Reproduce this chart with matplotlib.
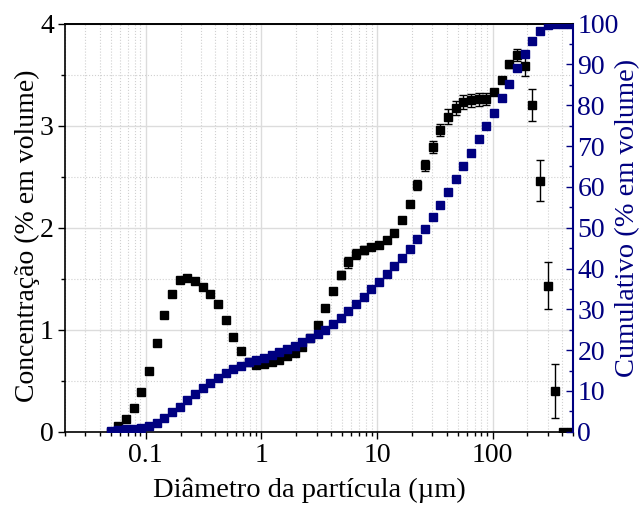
import numpy as np
import matplotlib.pyplot as plt
from matplotlib.ticker import LogLocator, MultipleLocator, FixedFormatter, FixedLocator

plt.rcParams['font.family'] = ['Liberation Serif', 'DejaVu Serif']

# particle size grid (um)
diametro = [0.0497, 0.0579, 0.0675, 0.0786, 0.0916, 0.1067, 0.1243, 0.1448, 0.1687, 0.1965,
            0.2289, 0.2667, 0.3107, 0.3620, 0.4217, 0.4912, 0.5723, 0.6667, 0.7767, 0.9048,
            1.054, 1.228, 1.431, 1.667, 1.942, 2.262, 2.635, 3.070, 3.577, 4.167,
            4.854, 5.655, 6.588, 7.675, 8.941, 10.42, 12.13, 14.14, 16.47, 19.19,
            22.35, 26.04, 30.34, 35.34, 41.17, 47.96, 55.87, 65.09, 75.83, 88.34,
            102.9, 119.9, 139.7, 162.7, 189.6, 220.8, 257.3, 299.8, 349.2, 406.8, 473.9]

# concentration (% volume) and its error
concentracao = [0.0, 0.06, 0.12, 0.23, 0.39, 0.60, 0.87, 1.14, 1.35, 1.49,
                1.51, 1.48, 1.42, 1.35, 1.25, 1.10, 0.93, 0.79, 0.68, 0.65,
                0.66, 0.68, 0.70, 0.74, 0.77, 0.83, 0.92, 1.05, 1.21, 1.38,
                1.54, 1.66, 1.74, 1.78, 1.81, 1.83, 1.88, 1.95, 2.08, 2.23,
                2.42, 2.61, 2.79, 2.96, 3.09, 3.17, 3.23, 3.25, 3.26, 3.26,
                3.33, 3.45, 3.60, 3.69, 3.59, 3.20, 2.46, 1.43, 0.40, 0.0, 0.0]
erro = [0.0, 0.0, 0.0, 0.0, 0.0, 0.0, 0.0, 0.0, 0.0, 0.0,
        0.0, 0.0, 0.0, 0.0, 0.0, 0.0, 0.0, 0.0, 0.0, 0.0,
        0.0, 0.0, 0.0, 0.0, 0.0, 0.0, 0.0, 0.01, 0.02, 0.03,
        0.04, 0.054, 0.05, 0.04, 0.03, 0.02, 0.02, 0.02, 0.02, 0.03,
        0.05, 0.057, 0.06, 0.06, 0.07, 0.07, 0.07, 0.065, 0.065, 0.06,
        0.02, 0.02, 0.03, 0.06, 0.10, 0.155, 0.20, 0.23, 0.265, 0.0, 0.0]

# cumulative (% volume)
cumulativo = [0.3, 0.5, 0.6, 0.7, 1.0, 1.5, 2.2, 3.4, 4.8, 6.1,
              7.7, 9.2, 10.6, 11.9, 13.2, 14.3, 15.4, 16.2, 17.0, 17.5,
              18.1, 18.7, 19.5, 20.2, 21.0, 21.9, 22.9, 23.9, 24.9, 26.3,
              27.9, 29.6, 31.3, 33.1, 34.9, 36.7, 38.6, 40.5, 42.5, 44.8,
              47.2, 49.8, 52.7, 55.6, 58.8, 61.9, 65.1, 68.4, 71.7, 74.9,
              78.2, 81.7, 85.2, 89.1, 92.6, 95.8, 98.3, 99.6, 100, 100, 100]

azul = '#000080'

fig = plt.figure(figsize=(6.39, 5.05), dpi=100)
ax = fig.add_axes([0.1017, 0.1451, 0.7955, 0.8080])

ax.errorbar(diametro, concentracao, yerr=erro, fmt='s', color='black', ms=5.8,
            ecolor='black', elinewidth=1, capsize=3, capthick=1, zorder=3)
ax.set_xscale('log')
ax.set_xlim(0.02, 500)
ax.set_ylim(0, 4)

ax.xaxis.set_major_locator(FixedLocator([0.1, 1, 10, 100]))
ax.xaxis.set_major_formatter(FixedFormatter(['0.1', '1', '10', '100']))
ax.xaxis.set_minor_locator(LogLocator(base=10, subs=np.arange(2, 10)))
ax.xaxis.set_minor_formatter(FixedFormatter([]))
ax.yaxis.set_major_locator(MultipleLocator(1))
ax.yaxis.set_minor_locator(MultipleLocator(0.5))

ax.grid(which='major', color='#dcdcdc', linestyle='-', linewidth=1)
ax.grid(which='minor', color='#d0d0d0', linestyle=':', linewidth=0.8)
ax.set_axisbelow(True)

ax.tick_params(axis='both', which='major', direction='out', length=5, width=1,
               labelsize=20, top=False, right=False, pad=3)
ax.tick_params(axis='both', which='minor', direction='out', length=3, width=1,
               top=False, right=False)
for s in ax.spines.values():
    s.set_linewidth(1.2)

ax.set_xlabel('Diâmetro da partícula (µm)', fontsize=20.5)
ax.set_ylabel('Concentração (% em volume)', fontsize=20)
ax.xaxis.set_label_coords(0.48, -0.113)
ax.yaxis.set_label_coords(-0.05, 0.48)

ax2 = ax.twinx()
ax2.plot(diametro, cumulativo, 's', color=azul, ms=5.8, zorder=4)
ax2.set_ylim(0, 100)
ax2.yaxis.set_major_locator(MultipleLocator(10))
ax2.yaxis.set_minor_locator(MultipleLocator(5))
ax2.tick_params(axis='y', which='major', direction='in', length=5, width=1,
                colors=azul, labelsize=20, pad=3)
ax2.tick_params(axis='y', which='minor', direction='in', length=3, width=1, colors=azul)
ax2.spines['right'].set_color(azul)
ax2.spines['right'].set_linewidth(1.5)
ax2.spines['left'].set_visible(False)
ax2.spines['bottom'].set_visible(False)
ax2.spines['top'].set_linewidth(1.2)
ax2.set_ylabel('Cumulativo (% em volume)', fontsize=20.5, color=azul)
ax2.yaxis.set_label_coords(1.082, 0.525)

fig.savefig('out.png', dpi=100)
